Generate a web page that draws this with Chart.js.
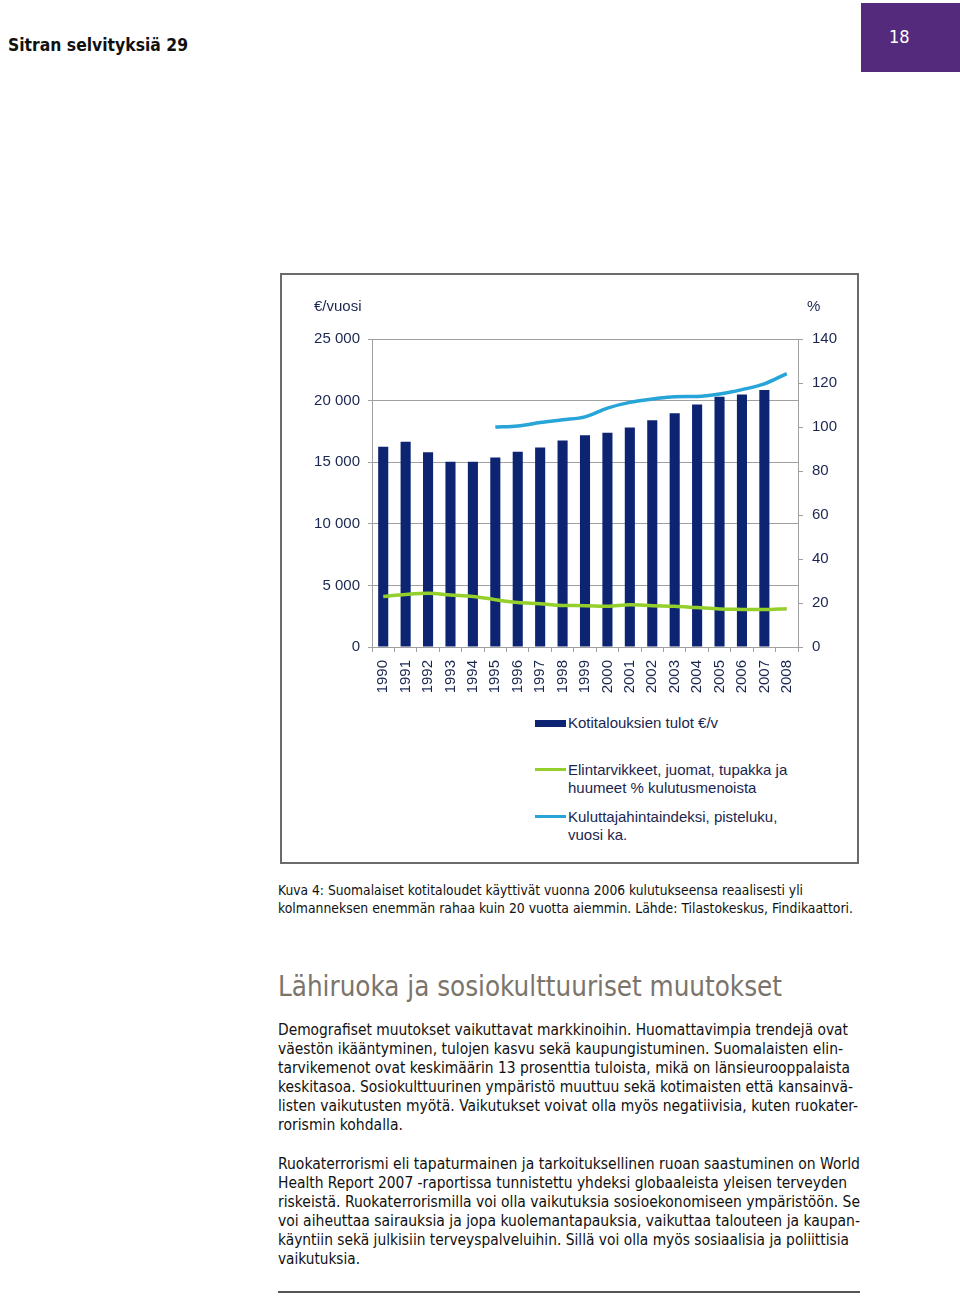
<!DOCTYPE html>
<html>
<head>
<meta charset="utf-8">
<script src="https://cdn.jsdelivr.net/npm/chart.js@4.4.0/dist/chart.umd.min.js"></script>
<style>
  html, body { margin:0; padding:0; background:#fff; }
  body { width:960px; height:1296px; position:relative; overflow:hidden; }
  .abs { position:absolute; white-space:nowrap; }
  .fit { display:inline-block; transform-origin:0 50%; }
  .hdr { font-family:"DejaVu Sans Condensed","DejaVu Sans",sans-serif; font-weight:bold; font-size:18px; color:#111; }
  .cap { font-family:"DejaVu Sans Condensed","DejaVu Sans",sans-serif; font-size:14px; color:#111; line-height:18px; }
  .body { font-family:"DejaVu Sans Condensed","DejaVu Sans",sans-serif; font-size:15px; color:#111; line-height:19px; }
  .h2 { font-family:"DejaVu Sans Condensed","DejaVu Sans",sans-serif; font-size:29px; color:#7a746b; line-height:36px; }
  .lg { font-family:"Liberation Sans",Arial,sans-serif; font-size:15px; color:#1a2650; line-height:18px; }
  .ax { font-family:"Liberation Sans",Arial,sans-serif; font-size:15px; color:#1a2650; line-height:18px; }
</style>
</head>
<body>
<div class="abs hdr" style="left:8px; top:34px;"><span class="fit" data-w="180">Sitran selvityksiä 29</span></div>
<div class="abs" style="left:861px; top:3px; width:99px; height:69px; background:#532a7c;"></div>
<div class="abs" style="left:889px; top:26px; font-family:'DejaVu Sans Condensed','DejaVu Sans',sans-serif; font-size:18px; color:#fff;">18</div>

<div class="abs" style="left:280px; top:273px; width:575px; height:587px; border:2px solid #6b6b6b;"></div>
<canvas id="c" width="576" height="440" style="position:absolute; left:281px; top:274px;"></canvas>

<div class="abs ax" style="left:314px; top:297px;">€/vuosi</div>
<div class="abs ax" style="left:807px; top:297px;">%</div>

<div class="abs" style="left:535px; top:720px; width:31px; height:7px; background:#0c2472;"></div>
<div class="abs lg" style="left:568px; top:714px;">Kotitalouksien tulot €/v</div>
<div class="abs" style="left:535px; top:768px; width:31px; height:3px; background:#94cf2b;"></div>
<div class="abs lg" style="left:568px; top:761px;">Elintarvikkeet, juomat, tupakka ja<br>huumeet % kulutusmenoista</div>
<div class="abs" style="left:535px; top:815px; width:31px; height:3px; background:#27a4d8;"></div>
<div class="abs lg" style="left:568px; top:808px;">Kuluttajahintaindeksi, pisteluku,<br>vuosi ka.</div>

<div class="abs cap" style="left:278px; top:881px;"><span class="fit" data-w="525">Kuva 4: Suomalaiset kotitaloudet käyttivät vuonna 2006 kulutukseensa reaalisesti yli</span></div>
<div class="abs cap" style="left:278px; top:899px;"><span class="fit" data-w="575">kolmanneksen enemmän rahaa kuin 20 vuotta aiemmin. Lähde: Tilastokeskus, Findikaattori.</span></div>

<div class="abs h2" style="left:278px; top:968px;"><span class="fit" data-w="504">Lähiruoka ja sosiokulttuuriset muutokset</span></div>

<div class="abs body" style="left:278px; top:1021px;"><span class="fit" data-w="570">Demografiset muutokset vaikuttavat markkinoihin. Huomattavimpia trendejä ovat</span></div>
<div class="abs body" style="left:278px; top:1040px;"><span class="fit" data-w="565">väestön ikääntyminen, tulojen kasvu sekä kaupungistuminen. Suomalaisten elin-</span></div>
<div class="abs body" style="left:278px; top:1059px;"><span class="fit" data-w="572">tarvikemenot ovat keskimäärin 13 prosenttia tuloista, mikä on länsieurooppalaista</span></div>
<div class="abs body" style="left:278px; top:1078px;"><span class="fit" data-w="575">keskitasoa. Sosiokulttuurinen ympäristö muuttuu sekä kotimaisten että kansainvä-</span></div>
<div class="abs body" style="left:278px; top:1097px;"><span class="fit" data-w="580">listen vaikutusten myötä. Vaikutukset voivat olla myös negatiivisia, kuten ruokater-</span></div>
<div class="abs body" style="left:278px; top:1116px;"><span class="fit" data-w="125">rorismin kohdalla.</span></div>

<div class="abs body" style="left:278px; top:1155px;"><span class="fit" data-w="582">Ruokaterrorismi eli tapaturmainen ja tarkoituksellinen ruoan saastuminen on World</span></div>
<div class="abs body" style="left:278px; top:1174px;"><span class="fit" data-w="569">Health Report 2007 -raportissa tunnistettu yhdeksi globaaleista yleisen terveyden</span></div>
<div class="abs body" style="left:278px; top:1193px;"><span class="fit" data-w="582">riskeistä. Ruokaterrorismilla voi olla vaikutuksia sosioekonomiseen ympäristöön. Se</span></div>
<div class="abs body" style="left:278px; top:1212px;"><span class="fit" data-w="582">voi aiheuttaa sairauksia ja jopa kuolemantapauksia, vaikuttaa talouteen ja kaupan-</span></div>
<div class="abs body" style="left:278px; top:1231px;"><span class="fit" data-w="571">käyntiin sekä julkisiin terveyspalveluihin. Sillä voi olla myös sosiaalisia ja poliittisia</span></div>
<div class="abs body" style="left:278px; top:1250px;"><span class="fit" data-w="82">vaikutuksia.</span></div>

<div class="abs" style="left:278px; top:1291px; width:582px; height:2px; background:#555;"></div>

<script>
// ---- data ----
const years = ["1990","1991","1992","1993","1994","1995","1996","1997","1998","1999","2000","2001","2002","2003","2004","2005","2006","2007","2008"];
const incomeEur = [16250,16650,15810,15030,15030,15380,15840,16190,16760,17190,17400,17810,18400,18970,19680,20320,20490,20870,null];
const foodSharePct = [23.0,23.9,24.4,23.6,23.0,21.5,20.2,19.7,18.9,18.8,18.5,19.2,18.8,18.5,17.9,17.3,17.1,17.0,17.4];
const cpiIndex = [null,null,null,null,null,100.0,100.5,102.0,103.3,104.6,108.6,111.2,112.7,113.8,113.9,115.0,117.0,119.6,124.3];
const leftTicks = [0,5000,10000,15000,20000,25000];
const rightTicks = [0,20,40,60,80,100,120,140];

const tickColor = '#1a2650';
const gridColor = '#a0a0a0';
const font = {family:'"Liberation Sans", Arial, sans-serif', size:15};
const fmt = v => String(v).replace(/\B(?=(\d{3})+(?!\d))/g, ' ');

new Chart(document.getElementById('c'), {
  data: {
    labels: years,
    datasets: [
      {type:'line', label:'Kuluttajahintaindeksi, pisteluku, vuosi ka.', data:cpiIndex, yAxisID:'y1',
       borderColor:'#27a4d8', borderWidth:3.5, pointRadius:0, cubicInterpolationMode:'monotone', order:1, spanGaps:false},
      {type:'line', label:'Elintarvikkeet, juomat, tupakka ja huumeet % kulutusmenoista', data:foodSharePct, yAxisID:'y1',
       borderColor:'#94cf2b', borderWidth:3.5, pointRadius:0, cubicInterpolationMode:'monotone', order:2},
      {type:'bar', label:'Kotitalouksien tulot €/v', data:incomeEur, yAxisID:'y',
       backgroundColor:'#0c2472', categoryPercentage:1, barPercentage:0.45, order:3}
    ]
  },
  options: {
    responsive:false, animation:false, devicePixelRatio:1,
    layout:{padding:{top:65, left:0, right:0, bottom:0}},
    plugins:{legend:{display:false}, tooltip:{enabled:false}},
    scales:{
      x:{
        grid:{offset:true, drawOnChartArea:false, drawTicks:true, tickLength:5, color:gridColor},
        border:{display:true, color:gridColor},
        ticks:{color:tickColor, font:font, minRotation:90, maxRotation:90, padding:8, autoSkip:false},
        afterFit: s => { s.height = 67; }
      },
      y:{
        position:'left', min:0, max:25000,
        afterBuildTicks: s => { s.ticks = leftTicks.map(v => ({value:v})); },
        grid:{color:gridColor, tickLength:4},
        border:{display:true, color:gridColor},
        ticks:{color:tickColor, font:font, padding:8, callback:v => fmt(v)},
        afterFit: s => { s.width = 91; }
      },
      y1:{
        position:'right', min:0, max:140,
        afterBuildTicks: s => { s.ticks = rightTicks.map(v => ({value:v})); },
        grid:{drawOnChartArea:false, color:gridColor, tickLength:5},
        border:{display:true, color:gridColor},
        ticks:{color:tickColor, font:font, padding:9},
        afterFit: s => { s.width = 59; }
      }
    }
  }
});

function fitAll(){
  document.querySelectorAll('.fit').forEach(el => {
    el.style.transform = 'none';
    const w = el.getBoundingClientRect().width;
    const t = parseFloat(el.dataset.w);
    if (w > 0) el.style.transform = 'scaleX(' + (t / w) + ')';
  });
}
if (document.fonts && document.fonts.ready) document.fonts.ready.then(fitAll); else fitAll();
fitAll();
</script>
</body>
</html>
